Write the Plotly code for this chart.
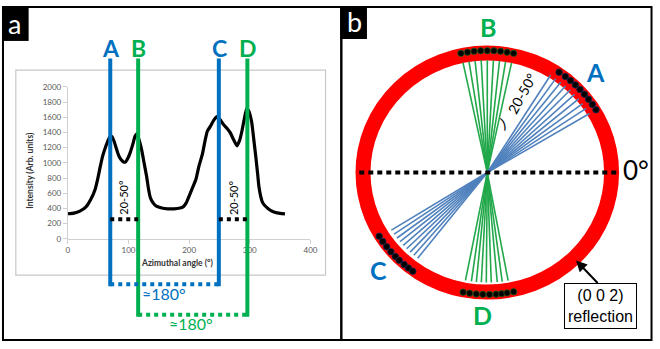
import math
import plotly.graph_objects as go

W, H = 660, 349
BLUE = "#0070C0"
GREEN = "#00B050"
FAN_BLUE = "#4F81BD"
FAN_GREEN = "#22A84A"
RED = "#FF0000"

# ---------------- Panel a data ----------------
azimuth = [0, 10, 20, 30, 38, 45, 49, 53, 57, 61, 65, 70, 73, 76, 80, 84, 88, 92, 95, 99,
           103, 107, 111, 114, 118, 122, 126, 130, 133, 136, 140, 146, 155, 165, 175, 185,
           190, 195, 200, 205, 211, 216, 222, 226, 230, 235, 241, 246, 251, 257, 263, 268,
           273, 279, 283, 287, 291, 295, 298, 303, 306, 310, 313, 315, 318, 321, 325, 330,
           335, 341, 350, 358]
intensity = [330, 338, 365, 420, 520, 650, 776, 930, 1075, 1180, 1266, 1350, 1345, 1290, 1190,
             1096, 1040, 1012, 1010, 1060, 1138, 1240, 1352, 1380, 1290, 1160, 990, 819, 660,
             545, 480, 430, 405, 395, 395, 405, 420, 470, 563, 660, 776, 950, 1118, 1280, 1416,
             1480, 1565, 1608, 1570, 1501, 1450, 1394, 1310, 1224, 1290, 1416, 1580, 1714, 1690,
             1544, 1350, 1075, 850, 691, 560, 480, 435, 400, 370, 350, 335, 329]

peak_labels = ["A", "B", "C", "D"]
peak_angles = [70, 116, 249, 296]
peak_colors = [BLUE, GREEN, BLUE, GREEN]
spread_level = 256           # intensity level of the black "20-50°" brackets
x_ticks = [0, 100, 200, 300, 400]
y_ticks = [0, 200, 400, 600, 800, 1000, 1200, 1400, 1600, 1800, 2000]

# ---------------- Panel b data ----------------
fan_A = [31, 34, 37, 40, 43, 46, 49, 52, 55, 58]
fan_B = [78, 81, 84, 87, 90, 93, 96, 99, 102]
fan_C = [212, 214.5, 217, 219.5, 222, 224.5, 227, 229.5, 232]
fan_D = [259, 262, 264.5, 267, 269.5, 272, 275, 277.5, 280.5]
dots_A = [31, 34, 37, 40, 43, 46, 49, 52, 55.5]
dots_B = [78, 81, 84, 87, 90, 93, 96, 99, 102]
dots_C = [211.5, 214.5, 217.5, 220.5, 223.5, 226, 229, 231.5, 234]
dots_D = [259, 262, 265, 268, 271, 274, 276.5, 279, 282]
fan_reach = {"A": 0.96, "B": 0.94, "C": 0.91, "D": 0.92}
dot_radius = 1.02


def px(x):
    return x / W


def py(y):
    return 1 - y / H


# panel geometry (pixels)
AX_L, AX_R, AX_B, AX_T = 66.7, 312.7, 240.7, 84.3
B_L, B_R = 344, 660
CX, CY, SX, SY = 492, 172.5, 126, 123

fig = go.Figure()

# ---- panel a curve ----
fig.add_trace(go.Scatter(x=azimuth, y=intensity, mode="lines",
                         line=dict(color="black", width=3.2, shape="spline", smoothing=0.5),
                         xaxis="x", yaxis="y", hoverinfo="skip"))

# ---- panel b fans ----
def fan_xy(angles, reach):
    xs, ys = [], []
    for a in angles:
        t = math.radians(a)
        xs += [0, reach * math.cos(t), None]
        ys += [0, reach * math.sin(t), None]
    return xs, ys

for key, angles, col in [("B", fan_B, FAN_GREEN), ("D", fan_D, FAN_GREEN),
                         ("A", fan_A, FAN_BLUE), ("C", fan_C, FAN_BLUE)]:
    xs, ys = fan_xy(angles, fan_reach[key])
    fig.add_trace(go.Scatter(x=xs, y=ys, mode="lines", line=dict(color=col, width=1.6),
                             xaxis="x2", yaxis="y2", hoverinfo="skip"))

# 0° reference dotted line
fig.add_trace(go.Scatter(x=[-1.03, 1.056], y=[0, 0], mode="lines",
                         line=dict(color="black", width=4, dash="5px,4px"),
                         xaxis="x2", yaxis="y2", hoverinfo="skip"))

# dots
for dots, edge in [(dots_A, "#1a2a55"), (dots_B, "#2f5a1f"), (dots_C, "#1a2a55"), (dots_D, "#2f5a1f")]:
    fig.add_trace(go.Scatter(x=[dot_radius * math.cos(math.radians(a)) for a in dots],
                             y=[dot_radius * math.sin(math.radians(a)) for a in dots],
                             mode="markers",
                             marker=dict(color="black", size=6.5, line=dict(color=edge, width=0.8)),
                             xaxis="x2", yaxis="y2", hoverinfo="skip", cliponaxis=False))

shapes = []
# outer frames
shapes.append(dict(type="rect", xref="paper", yref="paper", x0=px(1), x1=px(344), y0=py(345), y1=py(2),
                   line=dict(color="black", width=2)))
shapes.append(dict(type="rect", xref="paper", yref="paper", x0=px(344), x1=px(658.5), y0=py(345), y1=py(2),
                   line=dict(color="black", width=2)))
# inner chart frame
shapes.append(dict(type="rect", xref="paper", yref="paper", x0=px(14), x1=px(328), y0=py(278), y1=py(67),
                   line=dict(color="#c8c8c8", width=1.2), layer="below"))
# label boxes
shapes.append(dict(type="rect", xref="paper", yref="paper", x0=px(0), x1=px(27), y0=py(37), y1=py(2),
                   fillcolor="black", line=dict(color="black", width=0)))
shapes.append(dict(type="rect", xref="paper", yref="paper", x0=px(343), x1=px(370), y0=py(35), y1=py(2),
                   fillcolor="black", line=dict(color="black", width=0)))

# vertical marker lines (panel a)
bottoms = {BLUE: 289.5, GREEN: 321}
for ang, col in zip(peak_angles, peak_colors):
    shapes.append(dict(type="line", xref="x", yref="paper", x0=ang, x1=ang,
                       y0=py(bottoms[col]), y1=py(55), line=dict(color=col, width=4)))
# ≈180° dotted connectors
shapes.append(dict(type="line", xref="x", yref="paper", x0=peak_angles[0], x1=peak_angles[2],
                   y0=py(287.5), y1=py(287.5), line=dict(color=BLUE, width=4, dash="4px,4px")))
shapes.append(dict(type="line", xref="x", yref="paper", x0=peak_angles[1], x1=peak_angles[3],
                   y0=py(319), y1=py(319), line=dict(color=GREEN, width=4, dash="4px,4px")))
# 20-50° black brackets
for a0, a1 in [(peak_angles[0], peak_angles[1]), (peak_angles[2], peak_angles[3])]:
    shapes.append(dict(type="line", xref="x", yref="y", x0=a0, x1=a1, y0=spread_level, y1=spread_level,
                       line=dict(color="black", width=4, dash="4px,4px")))

# ring
shapes.append(dict(type="circle", xref="x2", yref="y2", x0=-1, x1=1, y0=-1, y1=1,
                   line=dict(color=RED, width=15), layer="below"))

CAL = "Lato, 'Open Sans', sans-serif"
ann = []


def text(x, y, t, size, color="black", bold=False, angle=0, family=CAL, **kw):
    ann.append(dict(x=px(x), y=py(y), xref="paper", yref="paper", text=("<b>%s</b>" % t) if bold else t,
                    showarrow=False, xanchor="center", yanchor="middle", textangle=angle,
                    font=dict(size=size, color=color, family=family), **kw))

text(13, 19, "a", 27, color="white")
text(357, 17, "b", 27, color="white")

label_x_px = [AX_L + (a / 400) * (AX_R - AX_L) for a in peak_angles]
for lab, lx, col in zip(peak_labels, label_x_px, peak_colors):
    text(lx + 0.5, 44, lab, 23, color=col, bold=True)

text(123, 198, "20-50°", 11, angle=-90)
text(235, 198, "20-50°", 11, angle=-90)
text(164, 297, "≈180°", 16, color=BLUE)
text(192, 328, "≈180°", 16, color=GREEN)

text(29, 170, "Intensity (Arb. units)", 8.5, color="#333333", bold=True, angle=-90)
text(178, 266, "Azimuthal angle (°)", 8.5, color="#333333", bold=True)

# panel b labels
text(493, 23, "B", 25, color=GREEN, bold=True)
text(602, 69, "A", 25, color=BLUE, bold=True)
text(382, 273, "C", 25, color=BLUE, bold=True)
text(487, 319, "D", 25, color=GREEN, bold=True)
text(643, 170, "0°", 26)
text(527, 91, "20-50°", 14, angle=-61)
text(508, 121, ")", 15, angle=-20)

# (0 0 2) reflection box + arrow
ann.append(dict(x=px(607), y=py(310), xref="paper", yref="paper",
                text="(0 0 2)<br>reflection", showarrow=False, xanchor="center", yanchor="middle",
                font=dict(size=16, color="black", family="Liberation Sans, Arial"),
                bordercolor="black", borderwidth=1, borderpad=3, bgcolor="white"))
ann.append(dict(x=px(582), y=py(263), xref="paper", yref="paper", text="", showarrow=True,
                ax=23, ay=24, arrowhead=2, arrowsize=1.1, arrowwidth=2, arrowcolor="black",
                axref="pixel", ayref="pixel"))

xb0 = (B_L - CX) / SX
xb1 = (B_R - CX) / SX
yb0 = (CY - H) / SY
yb1 = CY / SY

fig.update_layout(
    width=W, height=H, margin=dict(l=0, r=0, t=0, b=0),
    paper_bgcolor="white", plot_bgcolor="white", showlegend=False,
    xaxis=dict(domain=[AX_L / W, AX_R / W], range=[0, 400], tickvals=x_ticks,
               showline=True, linecolor="#d0d0d0", linewidth=1, ticks="outside", ticklen=4,
               tickcolor="#d0d0d0", showgrid=False, zeroline=False,
               tickfont=dict(size=8, color="#595959", family=CAL), anchor="y"),
    yaxis=dict(domain=[1 - AX_B / H, 1 - AX_T / H], range=[0, 2000], tickvals=y_ticks,
               showline=True, linecolor="#d0d0d0", linewidth=1, ticks="outside", ticklen=4,
               tickcolor="#d0d0d0", showgrid=False, zeroline=False,
               tickfont=dict(size=8, color="#595959", family=CAL), anchor="x"),
    xaxis2=dict(domain=[B_L / W, B_R / W], range=[xb0, xb1], visible=False, anchor="y2"),
    yaxis2=dict(domain=[0, 1], range=[yb0, yb1], visible=False, anchor="x2"),
    shapes=shapes, annotations=ann,
)

fig.write_html("out.html", config={"displayModeBar": False},
               post_script="document.body.style.margin='0';document.body.style.overflow='hidden';")
